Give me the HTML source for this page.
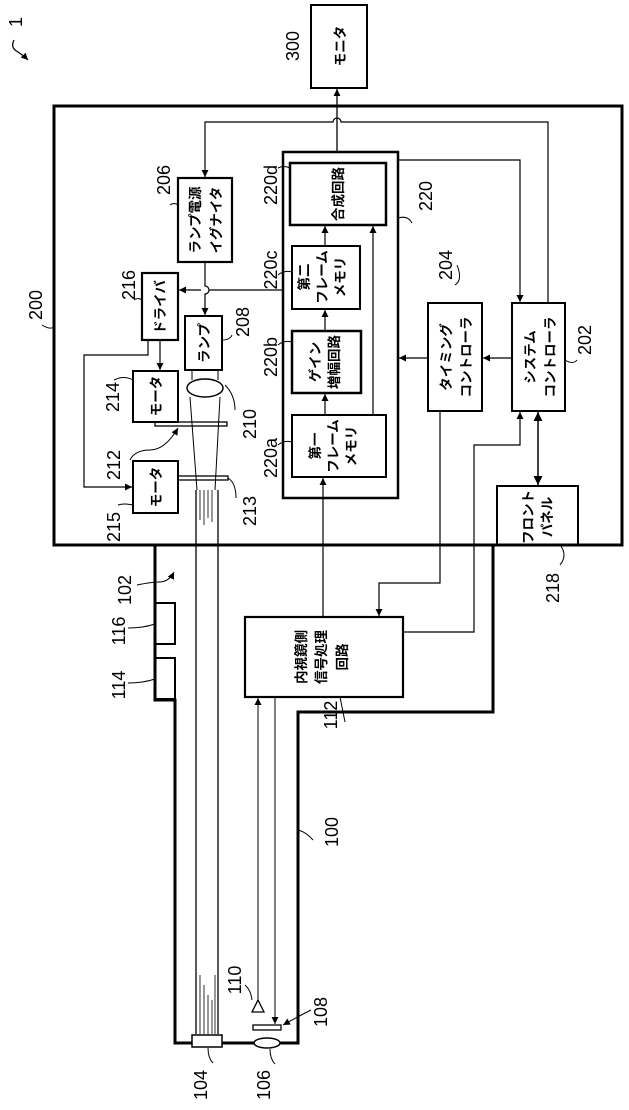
<!DOCTYPE html>
<html><head><meta charset="utf-8"><style>
html,body{margin:0;padding:0;background:#fff;}
svg{display:block;}
text{font-family:"Liberation Sans","Noto Sans CJK JP",sans-serif;fill:#000;}
.n{font-size:18px;}
.j{font-size:13.5px;font-weight:bold;}
</style></head><body>
<svg width="629" height="1110" viewBox="0 0 629 1110" xmlns="http://www.w3.org/2000/svg">
<defs>
<marker id="a" viewBox="0 0 10 10" refX="10" refY="5" markerWidth="7" markerHeight="7" orient="auto-start-reverse" markerUnits="userSpaceOnUse"><path d="M0,0 L10,5 L0,10 z" fill="#000"/></marker>
<marker id="b" viewBox="0 0 10 10" refX="10" refY="5" markerWidth="9" markerHeight="9" orient="auto-start-reverse" markerUnits="userSpaceOnUse"><path d="M0,0 L10,5 L0,10 z" fill="#000"/></marker>
</defs>
<g fill="none" stroke="#000">
<rect x="311" y="5" width="56" height="83" stroke-width="2"/>
<line x1="337" y1="152" x2="337" y2="89" stroke-width="1.3" marker-end="url(#a)"/>
<rect x="54" y="106" width="568" height="439" stroke-width="3"/>
<path d="M548,303 V122 H341 a4,4 0 0 0 -8,0 H205 V177" stroke-width="1.2" marker-end="url(#a)"/>
<path d="M398,160 H520 V302" stroke-width="1.2" marker-end="url(#a)"/>
<rect x="178" y="178" width="54" height="84" stroke-width="2.2"/>
<rect x="142" y="273" width="36" height="67" stroke-width="2.2"/>
<rect x="185" y="316" width="37" height="54" stroke-width="2"/>
<path d="M205,262 V286 a4,4 0 0 1 0,8 V315" stroke-width="1.2" marker-end="url(#a)"/>
<path d="M283,290 H209 M201,290 H179" stroke-width="1.2" marker-end="url(#a)"/>
<rect x="133" y="371" width="45" height="51" stroke-width="2"/>
<line x1="160" y1="340" x2="160" y2="370" stroke-width="1.2" marker-end="url(#a)"/>
<path d="M148,340 V355 H84 V487 H132" stroke-width="1.2" marker-end="url(#a)"/>
<rect x="133" y="461" width="45" height="52" stroke-width="2"/>
<ellipse cx="205" cy="388" rx="18" ry="9" stroke-width="1.5"/>
<line x1="192" y1="370" x2="192" y2="380" stroke-width="1"/>
<line x1="218" y1="370" x2="218" y2="380" stroke-width="1"/>
<line x1="190" y1="397" x2="197" y2="490" stroke-width="1"/>
<line x1="220" y1="397" x2="215" y2="490" stroke-width="1"/>
<rect x="155" y="422" width="72" height="4" stroke-width="1.3"/>
<rect x="178" y="476" width="50" height="4" stroke-width="1.3"/>
<line x1="196" y1="490" x2="196" y2="1034" stroke-width="1.3"/>
<line x1="218" y1="490" x2="218" y2="1034" stroke-width="1.3"/>
<path d="M200,490 V520 M204,490 V525 M208,490 V518 M212,490 V522 M200,975 V1034 M204,985 V1034 M208,995 V1034 M212,1000 V1034 M215,975 V1034" stroke-width="0.8"/>
<rect x="283" y="152" width="115" height="346" stroke-width="2.5"/>
<rect x="290" y="163" width="96" height="62" stroke-width="2.5"/>
<rect x="292" y="246" width="68" height="63" stroke-width="2"/>
<rect x="292" y="331" width="69" height="62" stroke-width="2.5"/>
<rect x="292" y="415" width="94" height="62" stroke-width="2"/>
<line x1="325" y1="246" x2="325" y2="226" stroke-width="1.2" marker-end="url(#a)"/>
<line x1="325" y1="331" x2="325" y2="310" stroke-width="1.2" marker-end="url(#a)"/>
<line x1="325" y1="415" x2="325" y2="394" stroke-width="1.2" marker-end="url(#a)"/>
<line x1="373" y1="415" x2="373" y2="226" stroke-width="1.2" marker-end="url(#a)"/>
<rect x="428" y="303" width="54" height="108" stroke-width="2"/>
<rect x="512" y="303" width="53" height="108" stroke-width="2"/>
<line x1="512" y1="358" x2="483" y2="358" stroke-width="1.2" marker-end="url(#a)"/>
<line x1="428" y1="358" x2="399" y2="358" stroke-width="1.2" marker-end="url(#a)"/>
<rect x="497" y="486" width="81" height="59" stroke-width="2"/>
<line x1="538" y1="412" x2="538" y2="485" stroke-width="1.5" marker-start="url(#b)" marker-end="url(#b)"/>
<rect x="245" y="617" width="158" height="80" stroke-width="2.2"/>
<path d="M403,632 H474 V445 H520 V412" stroke-width="1.2" marker-end="url(#a)"/>
<path d="M440,411 V583 H379 V616" stroke-width="1.2" marker-end="url(#a)"/>
<line x1="323" y1="617" x2="323" y2="478" stroke-width="1.2" marker-end="url(#a)"/>
<path d="M155,545 V700 H175 V1043 H298 V712 H493 V545" stroke-width="3"/>
<rect x="155" y="603" width="20" height="41" stroke-width="2"/>
<rect x="155" y="658" width="20" height="41" stroke-width="2"/>
<rect x="192" y="1035" width="30" height="12" stroke-width="1.5" fill="#fff"/>
<ellipse cx="267" cy="1043" rx="13" ry="5" stroke-width="1.5" fill="#fff"/>
<rect x="253" y="1025" width="28" height="5" stroke-width="1.3"/>
<path d="M252,1012 L258,1000 L264,1012 Z" stroke-width="1.3"/>
<line x1="258" y1="1000" x2="258" y2="698" stroke-width="1" marker-end="url(#a)"/>
<line x1="275" y1="697" x2="275" y2="1024" stroke-width="1" marker-end="url(#a)"/>
<path d="M14,40 q-4,8 4,12 q6,4 10,8" stroke-width="1.2" marker-end="url(#a)"/>
<path d="M42,325 q8,5 12,2" stroke-width="1"/>
<path d="M170,205 q4,-3 8,0" stroke-width="1"/>
<path d="M134,300 q4,-3 8,0" stroke-width="1"/>
<path d="M114,380 q10,-5 19,0" stroke-width="1"/>
<path d="M222,340 q8,0 10,-5" stroke-width="1"/>
<path d="M225,385 q10,10 10,25" stroke-width="1"/>
<path d="M130,460 q5,-10 20,-10 q15,0 28,-22" stroke-width="1" marker-end="url(#a)"/>
<path d="M228,478 q8,5 8,20" stroke-width="1"/>
<path d="M118,505 q6,-2 15,0" stroke-width="1"/>
<path d="M278,168 q6,-3 12,0" stroke-width="1"/>
<path d="M278,275 q6,-5 14,-3" stroke-width="1"/>
<path d="M278,345 q6,-5 14,-3" stroke-width="1"/>
<path d="M278,445 q6,-5 14,-3" stroke-width="1"/>
<path d="M398,218 q10,-3 14,5" stroke-width="1"/>
<path d="M455,285 q8,-5 2,-20" stroke-width="1"/>
<path d="M565,360 q8,5 12,0" stroke-width="1"/>
<path d="M560,545 q8,10 0,20" stroke-width="1"/>
<path d="M137,585 q15,-3 22,-3 q10,0 15,-10" stroke-width="1" marker-end="url(#a)"/>
<path d="M128,628 q15,0 27,-4" stroke-width="1"/>
<path d="M128,683 q15,0 27,-4" stroke-width="1"/>
<path d="M340,697 q3,15 5,25" stroke-width="1"/>
<path d="M298,830 q8,2 15,10" stroke-width="1"/>
<path d="M245,985 q6,5 7,15" stroke-width="1"/>
<path d="M311,1010 q-10,5 -28,15" stroke-width="1" marker-end="url(#a)"/>
<path d="M208,1048 q0,10 5,15" stroke-width="1"/>
<path d="M270,1049 q0,10 5,15" stroke-width="1"/>
</g>
<g class="j">
<text transform="translate(345,46) rotate(-90)" text-anchor="middle">モニタ</text>
<text transform="translate(200,220) rotate(-90)" text-anchor="middle">ランプ電源</text>
<text transform="translate(221,220) rotate(-90)" text-anchor="middle">イグナイタ</text>
<text transform="translate(165,307) rotate(-90)" text-anchor="middle">ドライバ</text>
<text transform="translate(209,343) rotate(-90)" text-anchor="middle">ランプ</text>
<text transform="translate(161,396) rotate(-90)" text-anchor="middle">モータ</text>
<text transform="translate(161,487) rotate(-90)" text-anchor="middle">モータ</text>
<text transform="translate(343,194) rotate(-90)" text-anchor="middle">合成回路</text>
<text transform="translate(309,277) rotate(-90)" text-anchor="middle">第二</text>
<text transform="translate(327,277) rotate(-90)" text-anchor="middle">フレーム</text>
<text transform="translate(345,277) rotate(-90)" text-anchor="middle">メモリ</text>
<text transform="translate(320,362) rotate(-90)" text-anchor="middle">ゲイン</text>
<text transform="translate(339,362) rotate(-90)" text-anchor="middle">増幅回路</text>
<text transform="translate(320,446) rotate(-90)" text-anchor="middle">第一</text>
<text transform="translate(338,446) rotate(-90)" text-anchor="middle">フレーム</text>
<text transform="translate(356,446) rotate(-90)" text-anchor="middle">メモリ</text>
<text transform="translate(451,357) rotate(-90)" text-anchor="middle">タイミング</text>
<text transform="translate(471,357) rotate(-90)" text-anchor="middle">コントローラ</text>
<text transform="translate(535,357) rotate(-90)" text-anchor="middle">システム</text>
<text transform="translate(555,357) rotate(-90)" text-anchor="middle">コントローラ</text>
<text transform="translate(533,517) rotate(-90)" text-anchor="middle">フロント</text>
<text transform="translate(552,517) rotate(-90)" text-anchor="middle">パネル</text>
<text transform="translate(306,657) rotate(-90)" text-anchor="middle">内視鏡側</text>
<text transform="translate(326,657) rotate(-90)" text-anchor="middle">信号処理</text>
<text transform="translate(347,657) rotate(-90)" text-anchor="middle">回路</text>
</g>
<g class="n">
<text transform="translate(22,22) rotate(-90)" text-anchor="middle">1</text>
<text transform="translate(299,46) rotate(-90)" text-anchor="middle">300</text>
<text transform="translate(42,305) rotate(-90)" text-anchor="middle">200</text>
<text transform="translate(170,180) rotate(-90)" text-anchor="middle">206</text>
<text transform="translate(135,285) rotate(-90)" text-anchor="middle">216</text>
<text transform="translate(249,322) rotate(-90)" text-anchor="middle">208</text>
<text transform="translate(119,397) rotate(-90)" text-anchor="middle">214</text>
<text transform="translate(256,424) rotate(-90)" text-anchor="middle">210</text>
<text transform="translate(120,465) rotate(-90)" text-anchor="middle">212</text>
<text transform="translate(256,511) rotate(-90)" text-anchor="middle">213</text>
<text transform="translate(120,527) rotate(-90)" text-anchor="middle">215</text>
<text transform="translate(277,185) rotate(-90)" text-anchor="middle">220d</text>
<text transform="translate(277,270) rotate(-90)" text-anchor="middle">220c</text>
<text transform="translate(277,357) rotate(-90)" text-anchor="middle">220b</text>
<text transform="translate(277,458) rotate(-90)" text-anchor="middle">220a</text>
<text transform="translate(432,196) rotate(-90)" text-anchor="middle">220</text>
<text transform="translate(452,265) rotate(-90)" text-anchor="middle">204</text>
<text transform="translate(591,340) rotate(-90)" text-anchor="middle">202</text>
<text transform="translate(559,588) rotate(-90)" text-anchor="middle">218</text>
<text transform="translate(131,590) rotate(-90)" text-anchor="middle">102</text>
<text transform="translate(125,631) rotate(-90)" text-anchor="middle">116</text>
<text transform="translate(125,685) rotate(-90)" text-anchor="middle">114</text>
<text transform="translate(337,715) rotate(-90)" text-anchor="middle">112</text>
<text transform="translate(338,832) rotate(-90)" text-anchor="middle">100</text>
<text transform="translate(241,980) rotate(-90)" text-anchor="middle">110</text>
<text transform="translate(327,1012) rotate(-90)" text-anchor="middle">108</text>
<text transform="translate(207,1085) rotate(-90)" text-anchor="middle">104</text>
<text transform="translate(270,1085) rotate(-90)" text-anchor="middle">106</text>
</g>
</svg>
</body></html>
